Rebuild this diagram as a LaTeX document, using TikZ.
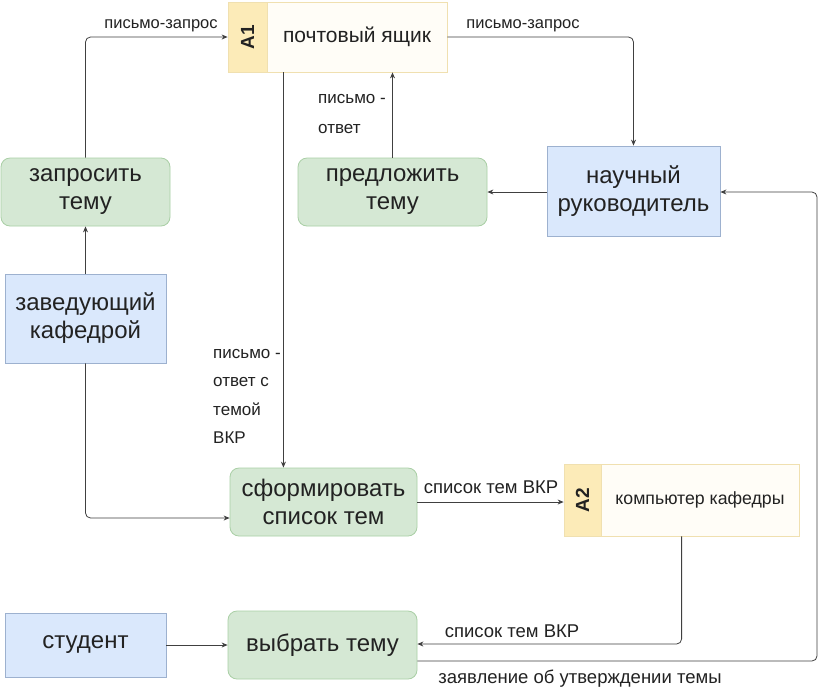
\documentclass[tikz,border=0pt]{standalone}
\usepackage{fontspec}
\setmainfont{Liberation Sans}
\usetikzlibrary{arrows.meta,calc}
\definecolor{gfill}{HTML}{D5E8D4}
\definecolor{gdraw}{HTML}{A9CFA5}
\definecolor{bfill}{HTML}{DAE8FC}
\definecolor{bdraw}{HTML}{9DB1CF}
\definecolor{yfill}{HTML}{FCEBB8}
\definecolor{ydraw}{HTML}{F0E0B0}
\definecolor{wfill}{HTML}{FFFDF7}
\definecolor{txt}{HTML}{222222}
\definecolor{linec}{HTML}{404040}
\begin{document}
\begin{tikzpicture}[x=1pt,y=-1pt,
  proc/.style={draw=gdraw, fill=gfill, rounded corners=9pt, line width=0.8pt, align=center,
    inner sep=0pt, text=txt, font=\fontsize{24}{28}\selectfont},
  actor/.style={draw=bdraw, fill=bfill, line width=0.8pt, align=center,
    inner sep=0pt, text=txt, font=\fontsize{24}{28}\selectfont},
  storetag/.style={draw=ydraw, fill=yfill, line width=0.8pt, inner sep=0pt},
  storebody/.style={draw=ydraw, fill=wfill, line width=0.8pt, inner sep=0pt, text=txt},
  flow/.style={draw=linec, line width=0.8pt, rounded corners=5pt, -{Stealth[length=6pt,width=5pt]}},
  lab/.style={text=txt, inner sep=0pt, font=\fontsize{16.5}{20}\selectfont},
  labm/.style={text=txt, inner sep=0pt, font=\fontsize{17}{20}\selectfont},
  labb/.style={text=txt, inner sep=0pt, font=\fontsize{18.5}{22}\selectfont},
]
\useasboundingbox (0,0) rectangle (826,689);
\fill[white] (0,0) rectangle (826,689);

% stores
\node[storetag, minimum width=39pt, minimum height=70pt] (a1tag) at (247.5,37) {};
\node[storebody, minimum width=180pt, minimum height=70pt, font=\fontsize{21}{24}\selectfont] (a1) at (357,37) {почтовый ящик};
\node[rotate=90, font=\bfseries\fontsize{19}{22}\selectfont, text=txt] (a1lbl) at (a1tag.center) {A1};

\node[storetag, minimum width=37pt, minimum height=72pt] (a2tag) at (582.5,500) {};
\node[storebody, minimum width=198pt, minimum height=72pt, font=\fontsize{17.7}{21}\selectfont] (a2) at (700,500) {компьютер кафедры};
\node[rotate=90, font=\bfseries\fontsize{19}{22}\selectfont, text=txt] (a2lbl) at (a2tag.center) {A2};

% processes
\node[proc, minimum width=169pt, minimum height=68pt] (zapr) at (85.5,192) {запросить\\тему};
\node[proc, minimum width=189pt, minimum height=68pt] (predl) at (392.5,192) {предложить\\тему};
\node[proc, minimum width=187pt, minimum height=68pt] (sform) at (323.5,502) {сформировать\\список тем};
\node[proc, minimum width=189pt, minimum height=68pt] (vybr) at (322.5,645) {выбрать тему};

% actors
\node[actor, minimum width=173pt, minimum height=90pt] (nauch) at (633.5,191) {научный\\руководитель};
\node[actor, minimum width=161pt, minimum height=89pt] (zav) at (85.5,318.5) {заведующий\\кафедрой};
\node[actor, minimum width=161pt, minimum height=64pt] (stud) at (85.5,645) {студент};

% helper coordinates
\coordinate (a1down) at ($(a1tag.south east)+(16,0)$);
\coordinate (sformin) at (a1down |- sform.north);
\coordinate (zavout) at (zav.south);
\coordinate (a2out) at ($(a2.south west)+(81,0)$);
\coordinate (vybrout) at ($(vybr.east)+(0,16)$);
\coordinate (nauchin) at ($(nauch.east)+(0,1)$);

% connectors
\draw[flow] (zapr.north) |- (a1tag.west);
\draw[flow] (a1.east) -| (nauch.north);
\draw[flow] (nauch.west |- predl.east) -- (predl.east);
\draw[flow] (predl.north) -- (predl.north |- a1.south);
\draw[flow] (a1down) -- (sformin);
\draw[flow] (zav.north) -- (zapr.south);
\draw[flow] (zavout) |- ($(sform.west)+(0,16)$);
\draw[flow] (sform.east) -- (sform.east -| a2tag.west);
\draw[flow] (a2out) |- ($(vybr.east)+(0,-1)$);
\draw[flow] (vybrout) -| (817,300) |- (nauchin);
\draw[flow] (stud.east) -- (vybr.west);

% labels
\node[lab, anchor=base] (l1) at (161,28) {письмо-запрос};
\node[lab, anchor=base] (l2) at (523,28) {письмо-запрос};
\node[labm, anchor=base west] (l3a) at (318,103) {письмо -};
\node[labm, anchor=base west] (l3b) at (318,133) {ответ};
\node[labm, anchor=base west] (l4a) at (213,358) {письмо -};
\node[labm, anchor=base west] (l4b) at (213,386.5) {ответ с};
\node[labm, anchor=base west] (l4c) at (213,415) {темой};
\node[labm, anchor=base west] (l4d) at (213,443.5) {ВКР};
\node[labb, anchor=base] (l5) at (491,493) {список тем ВКР};
\node[labb, anchor=base] (l6) at (512,637) {список тем ВКР};
\node[labb, anchor=base] (l7) at (580,683) {заявление об утверждении темы};
\end{tikzpicture}
\end{document}
